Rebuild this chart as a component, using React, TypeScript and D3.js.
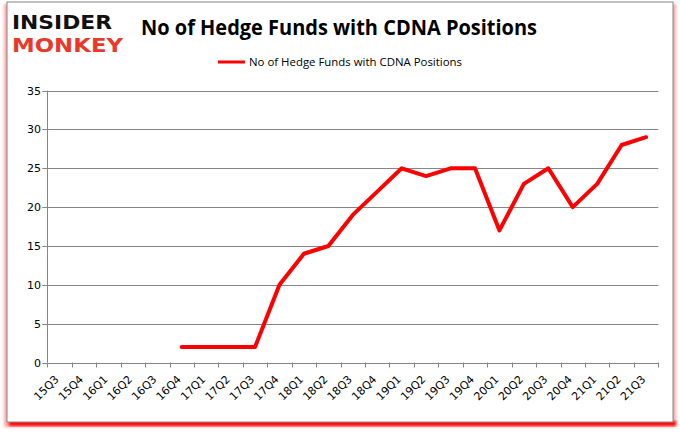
import React from "react";
import * as d3 from "d3";

const categories = ["15Q3","15Q4","16Q1","16Q2","16Q3","16Q4","17Q1","17Q2","17Q3","17Q4","18Q1","18Q2","18Q3","18Q4","19Q1","19Q2","19Q3","19Q4","20Q1","20Q2","20Q3","20Q4","21Q1","21Q2","21Q3"];
const values: (number | null)[] = [null,null,null,null,null,2,2,2,2,10,14,15,19,22,25,24,25,25,17,23,25,20,23,28,29];
const yTicks = [0,5,10,15,20,25,30,35];
const title = "No of Hedge Funds with CDNA Positions";
const seriesName = "No of Hedge Funds with CDNA Positions";

export default function App() {
  const W = 680, H = 433;
  const left = 47.3, right = 658.3, top = 90.6, bottom = 362.5;
  const x = d3.scaleBand<string>().domain(categories).range([left, right]);
  const y = d3.scaleLinear().domain([0, 35]).range([bottom, top]);
  const pts = categories.map((c, i) => ({ c, v: values[i] })).filter(d => d.v !== null) as { c: string; v: number }[];
  const line = d3.line<{ c: string; v: number }>().x(d => (x(d.c) as number) + x.bandwidth() / 2).y(d => y(d.v));
  const grey = "#868686";
  const ls = 1.25;
  return (
    <div style={{ position: "fixed", left: 0, top: 0 }}>
      <svg width={W} height={H} style={{ display: "block" }}>
        <defs>
          <filter id="blur" x="-5%" y="-5%" width="110%" height="110%">
            <feGaussianBlur stdDeviation="1.5" />
          </filter>
        </defs>
        <rect x={0} y={0} width={W} height={H} fill="#fff" />
        {/* red shadow */}
        <rect x={4} y={4} width={672} height={423} fill="#ff0000" opacity={0.35} filter="url(#blur)" />
        <rect x={9} y={421} width={667} height={5} fill="#ff0000" filter="url(#blur)" />
        <rect x={7} y={2} width={666} height={420} fill="#fff" stroke={grey} strokeWidth={1} />
        {/* logo */}
        <g transform={`translate(12,0) scale(1,${ls})`}>
          <text fontFamily="DejaVu Sans" fontWeight={900} fontSize={15.5}>
            <tspan x={0} y={29.5 / ls} textLength={100} lengthAdjust="spacingAndGlyphs" fill="#111">INSIDER</tspan>
            <tspan x={0} y={52 / ls} textLength={111} lengthAdjust="spacingAndGlyphs" fill="#e8392a">MONKEY</tspan>
          </text>
        </g>
        {/* title */}
        <text x={141} y={35} fontFamily="Open Sans" fontWeight={700} fontSize={21} textLength={396} lengthAdjust="spacingAndGlyphs" fill="#000">{title}</text>
        {/* legend */}
        <line x1={218} x2={245} y1={62} y2={62} stroke="#ff0000" strokeWidth={3} />
        <text x={249} y={66} fontFamily="Open Sans" fontSize={11.5} textLength={213} lengthAdjust="spacingAndGlyphs" fill="#000">{seriesName}</text>
        {/* grid */}
        {yTicks.map(t => (
          <g key={t}>
            {t > 0 && <line x1={left} x2={right} y1={Math.round(y(t)) + 0.5} y2={Math.round(y(t)) + 0.5} stroke={grey} strokeWidth={1} />}
            <line x1={left - 5} x2={left} y1={Math.round(y(t)) + 0.5} y2={Math.round(y(t)) + 0.5} stroke={grey} strokeWidth={1} />
            <text x={41} y={y(t) + 4} textAnchor="end" fontFamily="DejaVu Sans" fontSize={11} fill="#000">{t}</text>
          </g>
        ))}
        <line x1={Math.round(left) + 0.5} x2={Math.round(left) + 0.5} y1={top} y2={bottom} stroke={grey} />
        <line x1={left} x2={right} y1={Math.round(bottom) + 0.5} y2={Math.round(bottom) + 0.5} stroke={grey} />
        {categories.concat(["_end"]).map((c, i) => {
          const xx = Math.round(left + i * x.step()) + 0.5;
          return <line key={c} x1={xx} x2={xx} y1={bottom} y2={bottom + 5} stroke={grey} />;
        })}
        {categories.map(c => {
          const cx = (x(c) as number) + x.bandwidth() / 2;
          return (
            <text key={c} transform={`translate(${cx + 0},${380}) rotate(-45)`} textAnchor="end" fontFamily="DejaVu Sans" fontSize={11} fill="#000">{c}</text>
          );
        })}
        <path d={line(pts) || ""} fill="none" stroke="#ff0000" strokeWidth={4} strokeLinejoin="round" strokeLinecap="round" />
      </svg>
    </div>
  );
}
